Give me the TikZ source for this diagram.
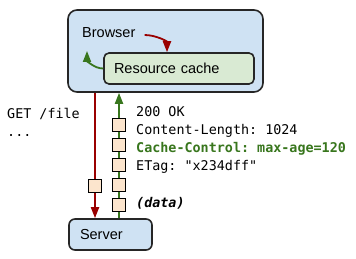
\documentclass[tikz,border=0pt]{standalone}
\usepackage{fontspec}
\setmainfont{Liberation Sans}
\setmonofont{DejaVu Sans Mono}
\usetikzlibrary{positioning,arrows.meta}
\definecolor{boxblue}{HTML}{CFE2F3}
\definecolor{boxgreen}{HTML}{D9EAD3}
\definecolor{pktfill}{HTML}{FCE5CD}
\definecolor{reqred}{HTML}{990000}
\definecolor{respgreen}{HTML}{38761D}

\begin{document}
\begin{tikzpicture}[x=1pt,y=-1pt,
    box/.style={draw=black!85, line width=1.6pt, rounded corners=9pt, inner sep=0pt},
    pkt/.style={draw=black, line width=1pt, fill=pktfill, minimum width=13pt, minimum height=13pt, inner sep=0pt},
    reqline/.style={draw=reqred, line width=1.8pt, -{Triangle[length=11pt,width=8pt]}},
    respline/.style={draw=respgreen, line width=1.8pt, -{Triangle[length=11pt,width=8pt]}},
    label/.style={font=\fontsize{14.5}{17}\selectfont},
    mono/.style={font=\ttfamily\fontsize{13.4}{18}\selectfont, align=left, anchor=west, inner sep=0pt}]
    \useasboundingbox (0,0) rectangle (356,259);
    % boxes
    \node (browser) [box, fill=boxblue, minimum width=195pt, minimum height=82pt] at (165.5,51) {};
    \node (browsertxt) [label, anchor=west, inner sep=0pt] at (82,33) {Browser};
    \node (cache) [box, fill=boxgreen, rounded corners=5pt, minimum height=31pt, text width=130pt, inner xsep=10pt, align=left, label] at (179,68.5) {Resource cache};
    \node (server) [box, fill=boxblue, rounded corners=6pt, minimum height=31pt, text width=61pt, inner xsep=11pt, align=left, label] at (110.5,234.5) {Server};

    % arrows inside the browser
    \coordinate (hit) at (87,51);
    \draw [reqline] ([xshift=9pt,yshift=-2pt]browsertxt.east) to[out=0,in=90] (cache.north -| 167,0);
    \draw [respline] (cache.west) to[out=180,in=-90] (hit);

    % request and response lines
    \coordinate (req) at (95,0);
    \coordinate (resp) at (119,0);
    \draw [reqline] (req |- browser.south) -- (req |- server.north);
    \draw [respline] (resp |- server.north) -- (resp |- browser.south);
    \node (req1) [pkt] at (95,186) {};
    \foreach \y [count=\i] in {125,145,165,185,205}
        \node (resp\i) [pkt] at (119,\y) {};

    % headers
    \node (reqtxt) [mono] at (7,122) {GET /file\\...};
    \node (resptxt) [mono] at (136,140) {200 OK\\Content-Length: 1024\\\textcolor{respgreen}{\bfseries Cache-Control: max-age=120}\\ETag: "x234dff"};
    \node (datatxt) [mono, font=\ttfamily\bfseries\itshape\fontsize{13.4}{18}\selectfont] at (136,203) {(data)};
\end{tikzpicture}
\end{document}
